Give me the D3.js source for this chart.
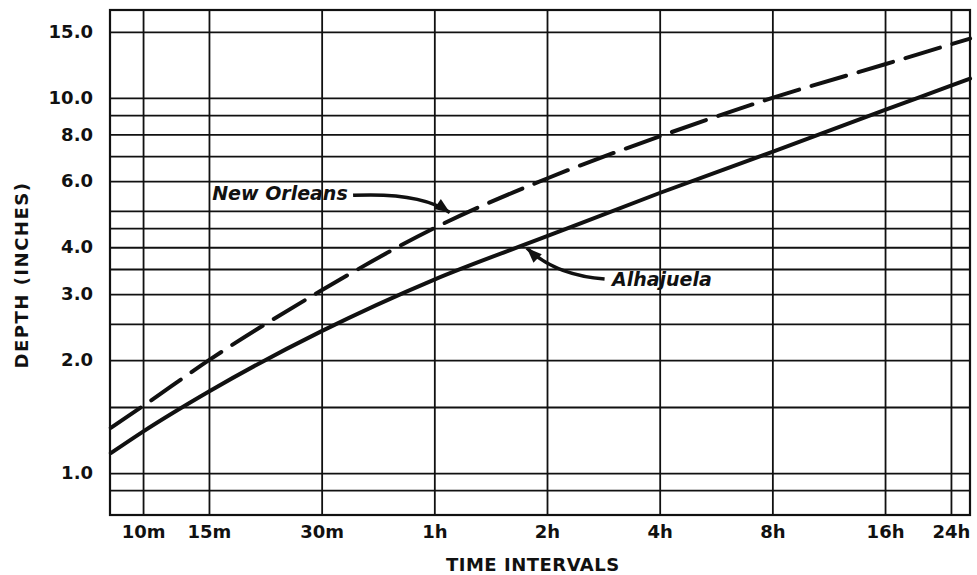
<!DOCTYPE html>
<html>
<head>
<meta charset="utf-8">
<script src="https://cdn.jsdelivr.net/npm/d3@7"></script>
<style>
  html, body { margin: 0; padding: 0; background: #fff; }
  #chart { width: 977px; height: 575px; }
  text { font-family: "DejaVu Sans", sans-serif; font-weight: bold; fill: #111; }
</style>
</head>
<body>
<div id="chart"></div>
<script>
// Durations in minutes (first and last are the chart edges)
const durations = [8.2, 10, 15, 30, 60, 120, 240, 480, 960, 1440, 1620];
const newOrleans = [1.32, 1.51, 2.0, 3.07, 4.5, 6.1, 7.9, 10.0, 12.3, 13.9, 14.4];
const alhajuela = [1.13, 1.29, 1.65, 2.39, 3.28, 4.28, 5.58, 7.18, 9.29, 10.78, 11.26];

const xTickValues = [10, 15, 30, 60, 120, 240, 480, 960, 1440];
const xTickLabels = ['10m', '15m', '30m', '1h', '2h', '4h', '8h', '16h', '24h'];
const yGridValues = [0.9, 1.0, 1.5, 2.0, 2.5, 3.0, 3.5, 4.0, 4.5, 5.0, 6.0, 7.0, 8.0, 9.0, 10.0, 15.0];
const yTickValues = [1.0, 2.0, 3.0, 4.0, 6.0, 8.0, 10.0, 15.0];

// Annotation anchors in data space [minutes, depth]
const noLabelAt = [15.3, 5.34];
const noArrow = [[36.4, 5.5], [55, 5.61], [66, 4.95]];
const alLabelAt = [179, 3.15];
const alArrow = [[171, 3.29], [126, 3.37], [106, 3.98]];

const margin = { top: 10, right: 7, bottom: 60, left: 110 };
const width = 977 - margin.left - margin.right;
const height = 575 - margin.top - margin.bottom;

const svg = d3.select('#chart').append('svg')
    .attr('width', 977)
    .attr('height', 575);

const g = svg.append('g')
    .attr('transform', `translate(${margin.left},${margin.top})`);

const x = d3.scaleLog().domain([8.16, 1619]).range([0, width]);
const y = d3.scaleLog().domain([0.773, 17.16]).range([height, 0]);

// Horizontal grid
g.append('g')
    .call(d3.axisLeft(y).tickValues(yGridValues).tickSize(-width).tickFormat(''))
    .call(a => a.select('.domain').remove())
    .selectAll('line')
    .attr('stroke', '#111')
    .attr('stroke-width', 1.8);

// Vertical grid
g.append('g')
    .attr('transform', `translate(0,${height})`)
    .call(d3.axisBottom(x).tickValues(xTickValues).tickSize(-height).tickFormat(''))
    .call(a => a.select('.domain').remove())
    .selectAll('line')
    .attr('stroke', '#111')
    .attr('stroke-width', 1.8);

// Frame
g.append('rect')
    .attr('width', width)
    .attr('height', height)
    .attr('fill', 'none')
    .attr('stroke', '#111')
    .attr('stroke-width', 2.2);

// Y tick labels
g.append('g')
    .call(d3.axisLeft(y).tickValues(yTickValues).tickSize(0).tickPadding(17)
        .tickFormat(d => d.toFixed(1)))
    .call(a => a.select('.domain').remove())
    .selectAll('text')
    .style('font-size', '18px')
    .style('font-family', '"DejaVu Sans", sans-serif')
    .style('font-weight', 'bold')
    .attr('fill', '#111');

// X tick labels
g.append('g')
    .attr('transform', `translate(0,${height})`)
    .call(d3.axisBottom(x).tickValues(xTickValues).tickSize(0).tickPadding(10)
        .tickFormat((d, i) => xTickLabels[i]))
    .call(a => a.select('.domain').remove())
    .selectAll('text')
    .style('font-size', '18px')
    .style('font-family', '"DejaVu Sans", sans-serif')
    .style('font-weight', 'bold')
    .attr('fill', '#111');

// Axis titles
svg.append('text')
    .attr('x', margin.left + x(110))
    .attr('y', 571)
    .attr('text-anchor', 'middle')
    .style('font-size', '18px')
    .style('letter-spacing', '0.5px')
    .text('TIME INTERVALS');

svg.append('text')
    .attr('transform', 'translate(28,275) rotate(-90)')
    .attr('text-anchor', 'middle')
    .style('font-size', '18px')
    .style('letter-spacing', '1.5px')
    .text('DEPTH (INCHES)');

// Lines
const line = d3.line()
    .x((d, i) => x(durations[i]))
    .y(d => y(d))
    .curve(d3.curveMonotoneX);

g.append('path')
    .datum(newOrleans)
    .attr('fill', 'none')
    .attr('stroke', '#111')
    .attr('stroke-width', 4)
    .attr('stroke-dasharray', '36,13')
    .attr('stroke-linecap', 'round')
    .attr('d', line);

g.append('path')
    .datum(alhajuela)
    .attr('fill', 'none')
    .attr('stroke', '#111')
    .attr('stroke-width', 4)
    .attr('stroke-linecap', 'round')
    .attr('d', line);

// Annotations
function drawArrow(pts) {
    const p = pts.map(d => [x(d[0]), y(d[1])]);
    g.append('path')
        .attr('d', `M${p[0][0]},${p[0][1]} Q${p[1][0]},${p[1][1]} ${p[2][0]},${p[2][1]}`)
        .attr('fill', 'none')
        .attr('stroke', '#111')
        .attr('stroke-width', 3.5);
    const ang = Math.atan2(p[2][1] - p[1][1], p[2][0] - p[1][0]);
    const len = 15, half = 6;
    const bx = p[2][0] - len * Math.cos(ang), by = p[2][1] - len * Math.sin(ang);
    const nx = -Math.sin(ang) * half, ny = Math.cos(ang) * half;
    g.append('path')
        .attr('d', `M${p[2][0]},${p[2][1]} L${bx + nx},${by + ny} L${bx - nx * 0.2},${by - ny * 0.2} L${bx - nx},${by - ny} Z`)
        .attr('fill', '#111');
}

g.append('text')
    .attr('x', x(noLabelAt[0]))
    .attr('y', y(noLabelAt[1]))
    .style('font-size', '19px')
    .style('font-style', 'italic')
    .text('New Orleans');
drawArrow(noArrow);

g.append('text')
    .attr('x', x(alLabelAt[0]))
    .attr('y', y(alLabelAt[1]))
    .style('font-size', '19px')
    .style('font-style', 'italic')
    .text('Alhajuela');
drawArrow(alArrow);
</script>
</body>
</html>
